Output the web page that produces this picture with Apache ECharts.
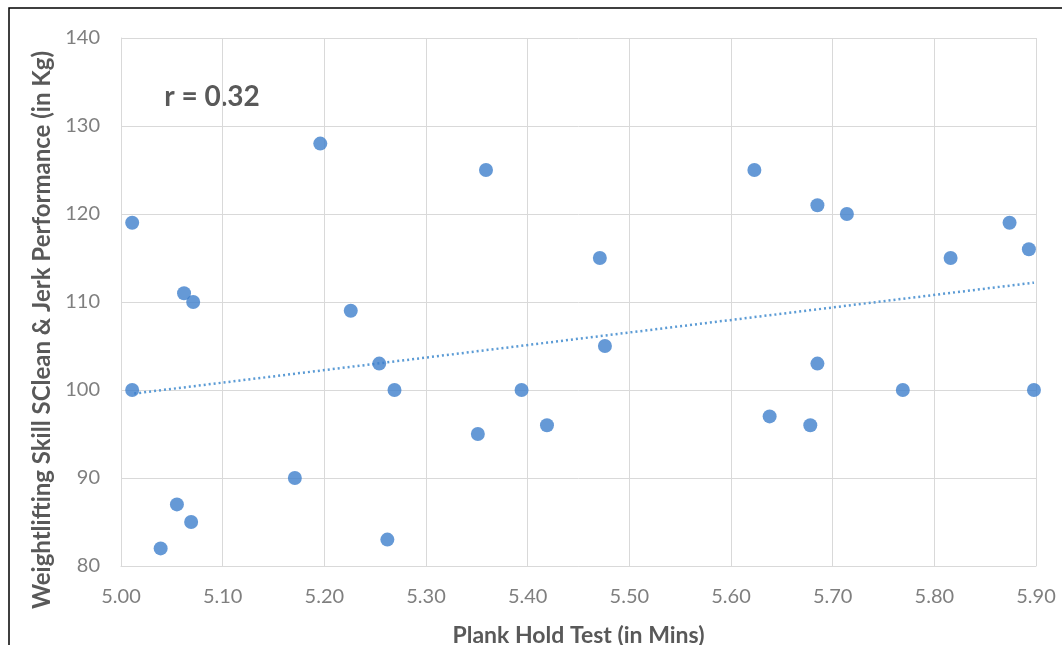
<!DOCTYPE html>
<html>
<head>
<meta charset="utf-8">
<script src="https://cdn.jsdelivr.net/npm/echarts@6/dist/echarts.min.js"></script>
<style>
  html, body { margin: 0; padding: 0; background: #fff; overflow: hidden; }
  #chart { width: 1062px; height: 645px; }
</style>
</head>
<body>
<div id="chart"></div>
<script>
// plank hold time (mins) vs clean & jerk (kg)
var plankMins = [5.011, 5.011, 5.039, 5.055, 5.062, 5.069, 5.071, 5.171, 5.196, 5.226,
                 5.254, 5.262, 5.269, 5.351, 5.359, 5.394, 5.419, 5.471, 5.476, 5.623,
                 5.638, 5.678, 5.685, 5.685, 5.714, 5.769, 5.816, 5.874, 5.893, 5.898];
var liftKg = [119, 100, 82, 87, 111, 85, 110, 90, 128, 109,
              103, 83, 100, 95, 125, 100, 96, 115, 105, 125,
              97, 96, 121, 103, 120, 100, 115, 119, 116, 100];

// linear trendline ends (from picture)
var trendX = [5.013, 5.898];
var trendY = [99.6, 112.2];

var corrLabel = 'r = 0.32';

var points = plankMins.map(function (x, i) { return [x, liftKg[i]]; });
var trend = trendX.map(function (x, i) { return [x, trendY[i]]; });

var myChart = echarts.init(document.getElementById('chart'));
var font = 'Lato';
var grey = '#595959';
var tickGrey = '#7f7f7f';

var option = {
    animation: false,
    textStyle: { fontFamily: font },
    grid: { left: 121, right: 26, top: 38, bottom: 79, containLabel: false, outerBoundsMode: 'none' },
    xAxis: {
        type: 'value',
        min: 5.0,
        max: 5.9,
        interval: 0.1,
        name: 'Plank Hold Test (in Mins)',
        nameLocation: 'middle',
        nameGap: 58,
        nameTextStyle: { color: grey, fontSize: 23, fontWeight: 'bold', fontFamily: font },
        axisLine: { lineStyle: { color: '#d9d9d9' } },
        axisTick: { show: false },
        axisLabel: {
            color: tickGrey, fontSize: 20, margin: 21,
            formatter: function (v) { return v.toFixed(2); }
        },
        splitLine: { lineStyle: { color: '#d9d9d9', width: 1 } }
    },
    yAxis: {
        type: 'value',
        min: 80,
        max: 140,
        interval: 10,
        axisLine: { show: true, lineStyle: { color: '#d9d9d9' } },
        axisTick: { show: false },
        axisLabel: { color: tickGrey, fontSize: 20, margin: 21 },
        splitLine: { lineStyle: { color: '#d9d9d9', width: 1 } }
    },
    graphic: [
        {
            type: 'rect',
            shape: { x: 9, y: 8, width: 1200, height: 800 },
            style: { fill: 'none', stroke: '#000', lineWidth: 1.5 },
            silent: true
        },
        {
            type: 'text',
            x: 42,
            y: 330,
            rotation: Math.PI / 2,
            style: {
                text: 'Weightlifting Skill SClean & Jerk Performance (in Kg)',
                fill: grey,
                font: 'bold 24px ' + font,
                textAlign: 'center',
                textVerticalAlign: 'middle'
            }
        },
        {
            type: 'text',
            x: 212,
            y: 97,
            style: {
                text: corrLabel,
                fill: grey,
                font: 'bold 28px ' + font,
                textAlign: 'center',
                textVerticalAlign: 'middle'
            }
        }
    ],
    series: [
        {
            name: 'Trend',
            type: 'line',
            data: trend,
            symbol: 'none',
            lineStyle: { color: '#5b9bd5', width: 2.5, type: [2, 3] },
            z: 1
        },
        {
            name: 'Athletes',
            type: 'scatter',
            data: points,
            symbolSize: 14,
            itemStyle: { color: '#3f80cc' },
            z: 2
        }
    ]
};

myChart.setOption(option);
</script>
</body>
</html>
